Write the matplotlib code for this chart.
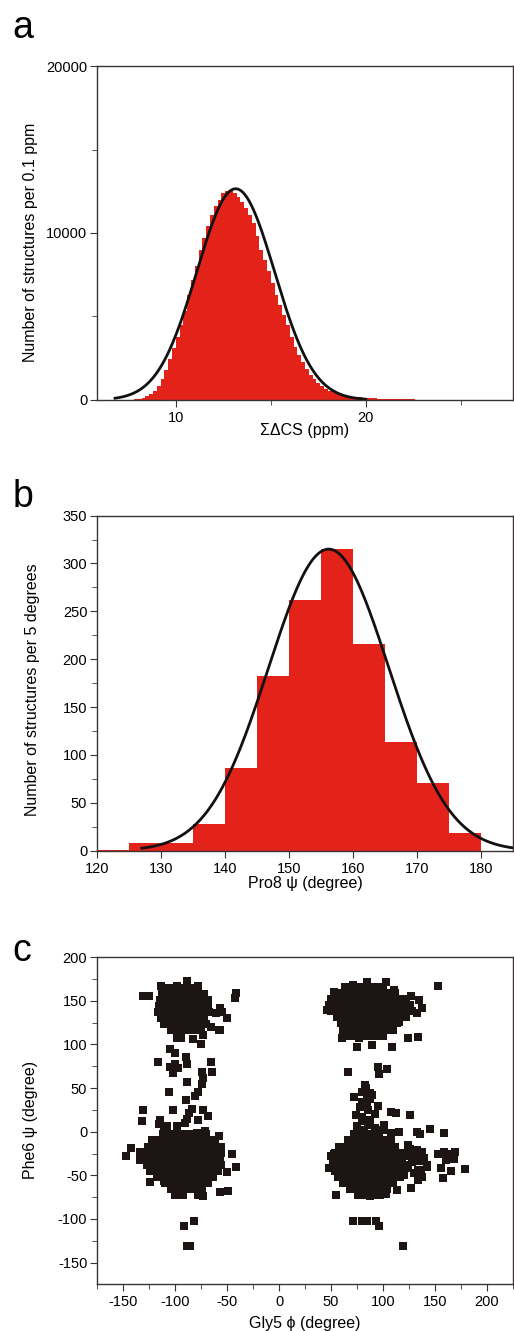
import numpy as np
import matplotlib
matplotlib.use("Agg")
import matplotlib.pyplot as plt
from matplotlib.ticker import MultipleLocator

plt.rcParams['font.family'] = ['Liberation Sans', 'DejaVu Sans']
plt.rcParams['font.size'] = 10.5
plt.rcParams['axes.labelsize'] = 11.5
plt.rcParams['axes.unicode_minus'] = False

RED = '#e3231a'
DARK = '#1d1513'
SPINE = '#3a3333'

# ---- panel a: sum of chemical shift deviations (0.2 ppm bins) ----
cs_start = 7.6
cs_width = 0.2
cs_counts = [20, 40, 80, 130, 220, 350, 550, 850, 1250, 1800,
             2450, 3100, 3800, 4500, 5300, 6300, 7200, 8000, 9000, 9700,
             10400, 11100, 11600, 12000, 12400, 12500, 12550, 12400, 12150, 11850,
             11500, 11100, 10600, 9800, 9000, 8400, 7700, 7000, 6300, 5700,
             5100, 4500, 3800, 3200, 2700, 2250, 1850, 1500, 1250, 1000,
             820, 680, 560, 470, 390, 330, 280, 240, 200, 170,
             150, 130, 115, 100, 90, 80, 70, 62, 55, 50,
             45, 40, 36, 32, 29, 26, 23, 21, 19, 17,
             15, 14, 13, 12, 11, 10, 9, 8, 7, 6]
cs_fit = (12650, 13.15, 2.05)   # amplitude, mean, sigma
cs_fit_range = (6.8, 20.0)

# ---- panel b: Pro8 psi (5 degree bins) ----
psi8_edges = [120, 125, 130, 135, 140, 145, 150, 155, 160, 165, 170, 175, 180]
psi8_counts = [1, 8, 8, 28, 86, 182, 262, 315, 216, 114, 71, 18]
psi8_fit = (315, 156.2, 9.4)
psi8_fit_range = (127, 185)

# ---- panel c: Gly5 phi / Phe6 psi scatter ----
# dense cores, read row by row: (psi, [phi, ...])
core_tl = [(165, [-106, -99, -94, -87, -82]),
           (158, [-113, -107, -101, -95, -89, -83, -77, -72]),
           (151, [-115, -109, -103, -97, -91, -85, -79, -73, -68]),
           (144, [-116, -110, -104, -98, -92, -86, -80, -74, -68]),
           (137, [-117, -110, -104, -98, -92, -86, -80, -74, -67]),
           (130, [-114, -108, -102, -96, -90, -84, -78, -72]),
           (123, [-111, -105, -99, -93, -87, -81, -75, -70]),
           (116, [-104, -98, -92, -86, -80, -75])]
core_tr = [(166, [64, 70, 76, 82, 88, 94, 100]),
           (159, [54, 60, 66, 72, 78, 84, 90, 96, 102, 108, 112]),
           (152, [50, 56, 62, 68, 74, 80, 86, 92, 98, 104, 110, 116, 122]),
           (145, [48, 54, 60, 66, 72, 78, 84, 90, 96, 102, 108, 114, 120, 126]),
           (138, [50, 56, 62, 68, 74, 80, 86, 92, 98, 104, 110, 116, 122, 128]),
           (131, [56, 62, 68, 74, 80, 86, 92, 98, 104, 110, 116, 122]),
           (124, [60, 66, 72, 78, 84, 90, 96, 102, 108, 114]),
           (117, [62, 68, 74, 80, 86, 92, 98, 104, 110]),
           (110, [66, 72, 78, 84, 90, 96, 100])]
core_bl = [(-3, [-112, -106, -100, -94, -88, -82, -76, -70]),
           (-10, [-122, -116, -110, -104, -98, -92, -86, -80, -74, -68, -62]),
           (-17, [-126, -120, -114, -108, -102, -96, -90, -84, -78, -72, -66, -60, -56]),
           (-24, [-128, -122, -116, -110, -104, -98, -92, -86, -80, -74, -68, -62, -56]),
           (-31, [-129, -123, -117, -111, -105, -99, -93, -87, -81, -75, -69, -63, -57]),
           (-38, [-127, -121, -115, -109, -103, -97, -91, -85, -79, -73, -67, -61, -56]),
           (-45, [-124, -118, -112, -106, -100, -94, -88, -82, -76, -70, -64, -59]),
           (-52, [-118, -112, -106, -100, -94, -88, -82, -76, -70, -64]),
           (-59, [-110, -104, -98, -92, -86, -80, -74, -68]),
           (-66, [-104, -98, -92, -86, -80, -74]),
           (-72, [-100, -93, -78, -74])]
core_br = [(-3, [72, 78, 84, 90, 96]),
           (-10, [66, 72, 78, 84, 90, 96, 102, 108]),
           (-17, [58, 64, 70, 76, 82, 88, 94, 100, 106, 112]),
           (-24, [54, 60, 66, 72, 78, 84, 90, 96, 102, 108, 114, 118]),
           (-31, [52, 58, 64, 70, 76, 82, 88, 94, 100, 106, 112, 118]),
           (-38, [52, 58, 64, 70, 76, 82, 88, 94, 100, 106, 112, 118, 122]),
           (-45, [54, 60, 66, 72, 78, 84, 90, 96, 102, 108, 114, 120]),
           (-52, [57, 63, 69, 75, 81, 87, 93, 99, 105, 111, 117]),
           (-59, [62, 68, 74, 80, 86, 92, 98, 104, 110]),
           (-66, [68, 74, 80, 86, 92, 98, 104]),
           (-72, [76, 84, 92, 97])]

# scattered structures around and between the cores: (phi, psi)
loose_left = [(-131, 155), (-125, 155), (-89, 173), (-114, 167), (-78, 167), (-98, 167),
              (-41, 159), (-42, 153), (-57, 142), (-50, 130), (-61, 136), (-57, 117),
              (-55, 137), (-98, 107), (-94, 107), (-83, 106), (-73, 111), (-75, 100),
              (-58, 116), (-66, 120),
              (-105, 95), (-100, 90), (-117, 80), (-100, 78), (-105, 74), (-97, 73),
              (-102, 67), (-90, 86), (-89, 78), (-66, 80), (-74, 68), (-65, 68),
              (-73, 61), (-74, 55), (-89, 57), (-106, 46), (-78, 46), (-81, 41),
              (-90, 36), (-131, 25), (-102, 25), (-84, 26), (-73, 25), (-87, 21),
              (-89, 15), (-68, 18), (-132, 12), (-115, 13), (-111, 7), (-91, 10),
              (-116, 9), (-108, 6), (-98, 7), (-79, -1), (-71, 1), (-78, 13),
              (-147, -28), (-143, -19), (-134, -32), (-134, -23), (-124, -58),
              (-111, -57), (-58, -5), (-45, -26), (-41, -40), (-50, -46), (-49, -68),
              (-57, -69), (-73, -74), (-100, -71), (-92, -108), (-82, -102),
              (-89, -131), (-86, -131)]
loose_right = [(153, 167), (46, 139), (53, 160), (71, 168), (85, 171), (103, 171),
               (111, 162), (127, 155), (135, 151), (138, 142), (133, 136), (116, 126),
               (124, 107), (134, 109), (61, 107), (75, 97), (90, 99), (109, 97), (77, 107),
               (66, 68), (95, 74), (104, 72), (96, 66), (83, 54), (82, 46), (88, 44),
               (72, 40), (85, 40), (90, 42), (80, 34), (85, 33), (95, 29), (108, 23),
               (113, 21), (126, 19), (74, 19), (80, 17), (88, 13), (101, 8), (75, 6),
               (82, 2), (116, 0), (108, -1), (133, 0), (136, -3), (145, 3), (159, -1),
               (72, -6), (66, -15), (84, 50), (80, 45), (88, 38), (78, 28), (86, 25),
               (92, 20), (80, 12), (86, 8), (92, 4), (76, 0), (90, -3), (96, -6),
               (100, 2), (84, -8),
               (126, -20), (132, -27), (128, -35), (136, -33), (124, -42), (130, -47),
               (137, -44), (140, -30), (125, -28), (120, -50), (134, -55), (143, -38),
               (48, -42), (53, -25), (50, -28), (55, -73), (127, -65), (114, -67),
               (103, -71), (88, -74), (95, -73), (124, -15), (133, -21), (138, -23),
               (153, -26), (159, -23), (167, -25), (161, -32), (169, -31), (143, -40),
               (134, -44), (138, -52), (156, -42), (158, -53), (166, -45), (179, -43),
               (170, -23), (71, -102), (80, -102), (85, -102), (93, -102), (96, -108),
               (119, -131)]


def gauss(x, amp, mu, sig):
    return amp * np.exp(-(x - mu) ** 2 / (2 * sig ** 2))


def style(ax):
    for s in ax.spines.values():
        s.set_color(SPINE)
        s.set_linewidth(1.0)
    ax.tick_params(which='both', direction='out', color=SPINE, top=False, right=False)
    ax.tick_params(which='major', length=5)
    ax.tick_params(which='minor', length=3.5)
    ax.tick_params(axis='y', pad=2)
    ax.tick_params(axis='x', pad=3)


fig = plt.figure(figsize=(5.14, 13.31), dpi=100)

# panel a
ax1 = fig.add_axes([0.1887, 0.6995, 0.8093, 0.2509])
edges = cs_start + cs_width * np.arange(len(cs_counts) + 1)
ax1.stairs(cs_counts, edges, fill=True, color=RED, linewidth=0)
xs = np.linspace(*cs_fit_range, 300)
ax1.plot(xs, gauss(xs, *cs_fit), color='#111111', lw=2)
ax1.set_xlim(5.85, 27.75)
ax1.set_ylim(0, 20000)
ax1.set_xticks([10, 20])
ax1.xaxis.set_minor_locator(MultipleLocator(5))
ax1.set_yticks([0, 10000, 20000])
ax1.yaxis.set_minor_locator(MultipleLocator(5000))
ax1.set_xlabel('ΣΔCS (ppm)')
ax1.set_ylabel('Number of structures per 0.1 ppm')
ax1.xaxis.set_label_coords(0.5, -0.069)
ax1.yaxis.set_label_coords(-0.142, 0.473)
style(ax1)

# panel b
ax2 = fig.add_axes([0.1887, 0.3609, 0.8093, 0.2517])
ax2.stairs(psi8_counts, psi8_edges, fill=True, color=RED, linewidth=0)
xs = np.linspace(*psi8_fit_range, 300)
ax2.plot(xs, gauss(xs, *psi8_fit), color='#111111', lw=2)
ax2.set_xlim(120, 185)
ax2.set_ylim(0, 350)
ax2.set_xticks(np.arange(120, 181, 10))
ax2.set_yticks(np.arange(0, 351, 50))
ax2.yaxis.set_minor_locator(MultipleLocator(25))
ax2.set_xlabel('Pro8 ψ (degree)')
ax2.set_ylabel('Number of structures per 5 degrees')
ax2.xaxis.set_label_coords(0.5, -0.0755)
ax2.yaxis.set_label_coords(-0.137, 0.479)
style(ax2)

# panel c
ax3 = fig.add_axes([0.1887, 0.0353, 0.8093, 0.2459])
phi, psi = [], []
for core in (core_tl, core_tr, core_bl, core_br):
    for row_psi, row_phi in core:
        phi += row_phi
        psi += [row_psi] * len(row_phi)
for p, q in loose_left + loose_right:
    phi.append(p)
    psi.append(q)
ax3.scatter(phi, psi, marker='s', s=26, color=DARK, linewidths=0)
ax3.set_xlim(-175.4, 225.4)
ax3.set_ylim(-174.5, 200.5)
ax3.set_xticks(np.arange(-150, 201, 50))
ax3.xaxis.set_minor_locator(MultipleLocator(25))
ax3.set_yticks(np.arange(-150, 201, 50))
ax3.yaxis.set_minor_locator(MultipleLocator(25))
ax3.set_xlabel('Gly5 ϕ (degree)')
ax3.set_ylabel('Phe6 ψ (degree)')
ax3.xaxis.set_label_coords(0.5, -0.098)
ax3.yaxis.set_label_coords(-0.142, 0.5)
style(ax3)

for lab, y in (('a', 0.9715), ('b', 0.6193), ('c', 0.278)):
    fig.text(0.024, y, lab, fontsize=27, va='baseline', ha='left')

fig.savefig('out.png', dpi=100)
